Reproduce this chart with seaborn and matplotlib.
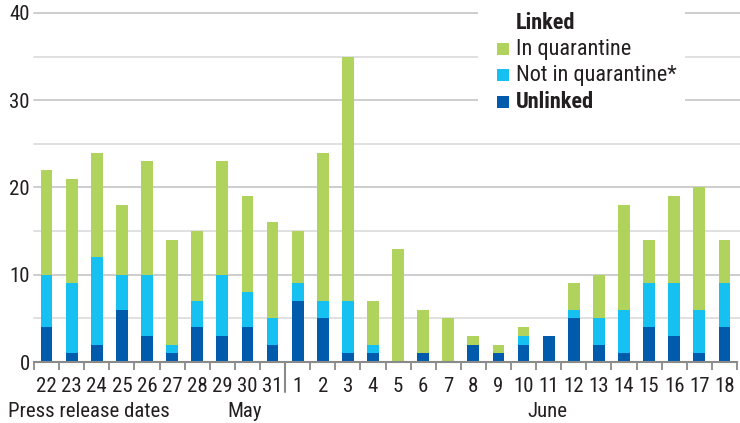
import matplotlib
matplotlib.use("Agg")
import matplotlib.pyplot as plt
from matplotlib import font_manager as fm
import seaborn as sns
import pandas as pd
from matplotlib.patches import Rectangle

# ---- data ----
months = ["May"] * 10 + ["June"] * 18
days = [22, 23, 24, 25, 26, 27, 28, 29, 30, 31,
        1, 2, 3, 4, 5, 6, 7, 8, 9, 10, 11, 12, 13, 14, 15, 16, 17, 18]
unlinked = [4, 1, 2, 6, 3, 1, 4, 3, 4, 2,
            7, 5, 1, 1, 0, 1, 0, 2, 1, 2, 3, 5, 2, 1, 4, 3, 1, 4]
not_in_quarantine = [6, 8, 10, 4, 7, 1, 3, 7, 4, 3,
                     2, 2, 6, 1, 0, 0, 0, 0, 0, 1, 0, 1, 3, 5, 5, 6, 5, 5]
in_quarantine = [12, 12, 12, 8, 13, 12, 8, 13, 11, 11,
                 6, 17, 28, 5, 13, 5, 5, 1, 1, 1, 0, 3, 5, 12, 5, 10, 14, 5]
legend_labels = ["In quarantine", "Not in quarantine*", "Unlinked"]
legend_title = "Linked"
y_ticks = [0, 10, 20, 30, 40]

C_GREEN = "#b0d35e"
C_CYAN = "#16c1f1"
C_DARK = "#005bac"
TXT = "#231f20"

keys = [f"{m} {d}" for m, d in zip(months, days)]
df = pd.DataFrame({"date": keys, "u": unlinked, "nq": not_in_quarantine, "iq": in_quarantine})
df["lvl2"] = df["u"] + df["nq"]
df["total"] = df["lvl2"] + df["iq"]

sns.set_theme(style="white")

# pick a condensed font if one is installed
names = {f.name for f in fm.fontManager.ttflist}
FAMILY, STRETCH, SCALE = "Roboto", "normal", 0.86
for cand in ["Roboto Condensed", "Liberation Sans Narrow", "Open Sans Condensed",
             "Noto Sans Condensed", "DejaVu Sans Condensed"]:
    if cand in names:
        FAMILY, STRETCH, SCALE = cand, "normal", 1.0
        break
else:
    for f in fm.fontManager.ttflist:
        st = f.stretch
        if (isinstance(st, str) and "condensed" in st) or (isinstance(st, (int, float)) and st < 500):
            if f.name in ("Roboto", "Noto Sans", "Open Sans", "DejaVu Sans", "Liberation Sans"):
                FAMILY, STRETCH, SCALE = f.name, "condensed", 1.0
                break

plt.rcParams["font.family"] = [FAMILY, "DejaVu Sans"]
plt.rcParams["font.stretch"] = STRETCH
plt.rcParams["text.color"] = TXT

FS_TICK = 15 * SCALE
FS_LEG = 16 * SCALE

W, H = 740, 423
fig = plt.figure(figsize=(W / 100, H / 100), dpi=100)
ax_l, ax_r, ax_t, ax_b = 34, 737, 13, 362
ax = fig.add_axes([ax_l / W, 1 - ax_b / H, (ax_r - ax_l) / W, (ax_b - ax_t) / H])

def px(x, y):
    return (x / W, 1 - y / H)

bw = 0.47
sns.barplot(data=df, x="date", y="total", order=keys, color=C_GREEN,
            width=bw, saturation=1, ax=ax, linewidth=0)
sns.barplot(data=df, x="date", y="lvl2", order=keys, color=C_CYAN,
            width=bw, saturation=1, ax=ax, linewidth=0)
sns.barplot(data=df, x="date", y="u", order=keys, color=C_DARK,
            width=bw, saturation=1, ax=ax, linewidth=0)

n = len(keys)
ax.set_xlim(-0.5, n - 0.5)
ax.set_ylim(0, 40)

for v in range(5, 41, 5):
    col = "#c9c9c9" if v % 10 == 0 else "#dddddd"
    ax.axhline(v, color=col, lw=1.3, zorder=0, xmin=0, xmax=1.01, clip_on=False)

for s in ["top", "right", "left"]:
    ax.spines[s].set_visible(False)
ax.spines["bottom"].set_color("#8a8a8a")
ax.spines["bottom"].set_linewidth(1.5)
ax.spines["bottom"].set_zorder(5)

ax.set_yticks(y_ticks)
ax.set_yticklabels([str(t) for t in y_ticks])
ax.tick_params(axis="y", length=0, pad=3, labelsize=FS_TICK, labelcolor=TXT)

ax.set_xticks(range(n))
ax.set_xticklabels([str(d) for d in days])
ax.set_xticks([i - 0.5 for i in range(n + 1)], minor=True)
ax.tick_params(axis="x", which="major", length=0, pad=11, labelsize=FS_TICK, labelcolor=TXT)
ax.tick_params(axis="x", which="minor", length=6, width=1.3, color="#8a8a8a", bottom=True)
ax.set_xlabel("")
ax.set_ylabel("")

sep = months.index("June") - 0.5
ax.plot([sep, sep], [0, -30 / (ax_b - ax_t)], color="#8a8a8a", lw=1.5,
        transform=ax.get_xaxis_transform(), clip_on=False, zorder=6)

fig.text(*px(8, 411), "Press release dates", fontsize=FS_TICK, ha="left", va="center", color=TXT)
fig.text(*px(245, 411), "May", fontsize=FS_TICK, ha="center", va="center", color=TXT)
fig.text(*px(547, 411), "June", fontsize=FS_TICK, ha="center", va="center", color=TXT)

fig.patches.append(Rectangle(px(478, 108), 207 / W, 108 / H, transform=fig.transFigure,
                             facecolor="white", edgecolor="none", zorder=3))
fig.text(*px(516, 23), legend_title, fontsize=FS_LEG, fontweight="bold", ha="left",
         va="center", color=TXT, zorder=4)
for (lbl, col, yy, bold) in [(legend_labels[0], C_GREEN, 49, False),
                             (legend_labels[1], C_CYAN, 75, False),
                             (legend_labels[2], C_DARK, 102, True)]:
    fig.patches.append(Rectangle(px(497, yy + 6), 12 / W, 12 / H, transform=fig.transFigure,
                                 facecolor=col, edgecolor="none", zorder=4))
    fig.text(*px(516, yy), lbl, fontsize=FS_LEG, fontweight="bold" if bold else "normal",
             ha="left", va="center", color=TXT, zorder=4)

fig.savefig("out.png", dpi=100)
